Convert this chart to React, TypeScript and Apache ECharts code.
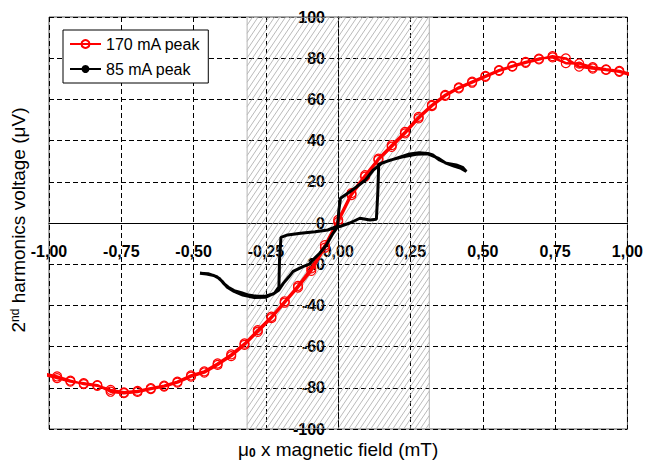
import React, { useEffect, useRef } from "react";
import * as echarts from "echarts";

// ---- data ----
const X_TICKS_MIN = -1;
const X_TICKS_MAX = 1;
const X_INTERVAL = 0.25;
const Y_MIN = -100;
const Y_MAX = 100;
const Y_INTERVAL = 20;

// shaded (hatched) field band
const HATCH_BAND = [-0.315, 0.315];

// 170 mA peak: field sampling points
const RED_X = [
  -1.019, -0.972, -0.926, -0.88, -0.833, -0.787, -0.741, -0.694, -0.648, -0.602,
  -0.556, -0.509, -0.463, -0.417, -0.37, -0.324, -0.278, -0.231, -0.185, -0.139,
  -0.093, -0.046, 0, 0.046, 0.093, 0.139, 0.185, 0.231, 0.278, 0.324, 0.37,
  0.417, 0.463, 0.509, 0.556, 0.602, 0.648, 0.694, 0.741, 0.787, 0.833, 0.88,
  0.926, 0.972, 1.019,
];
// rising sweep
const RED_UP = [
  -73.5, -75.3, -77.0, -77.8, -78.7, -81.9, -82.6, -82.0, -80.6, -79.4,
  -77.5, -74.6, -72.6, -68.9, -64.6, -59.2, -52.8, -46.2, -38.7, -31.3,
  -23.2, -12.0, 0.5, 13.6, 22.5, 30.6, 37.0, 43.5, 50.8, 56.8, 61.7,
  65.4, 68.1, 71.0, 73.9, 75.9, 77.8, 79.4, 81.0, 79.9, 75.9, 75.0,
  74.3, 73.4, 71.5,
];
// falling sweep (same field points)
const RED_DOWN = [
  -73.0, -74.5, -76.5, -78.2, -79.0, -81.0, -82.2, -81.5, -80.2, -79.0,
  -77.0, -74.0, -72.0, -68.2, -63.8, -58.5, -52.0, -45.5, -38.0, -30.5,
  -22.0, -10.8, 1.5, 14.5, 23.2, 31.2, 37.8, 44.2, 51.5, 57.3, 62.2,
  65.8, 68.6, 71.4, 74.2, 76.2, 78.2, 79.8, 80.4, 77.6, 77.4, 75.6,
  74.6, 73.8, 72.0,
];

// 85 mA peak: hysteresis loop (field, voltage) in sweep order
const BLACK_X = [
  -0.478, -0.455, -0.43, -0.41, -0.395, -0.38, -0.36, -0.335, -0.31, -0.28,
  -0.25, -0.225, -0.205, -0.19, -0.17, -0.156, -0.122, -0.1, -0.088, -0.064,
  -0.041, -0.018, 0.0, 0.005, 0.04, 0.075, 0.11, 0.132, 0.137, 0.14,
  0.166, 0.2, 0.247, 0.28, 0.31, 0.327, 0.35, 0.374, 0.408, 0.43, 0.443,
  0.425, 0.4, 0.37, 0.345, 0.31, 0.27, 0.22, 0.18, 0.15, 0.12,
  0.095, 0.063, 0.028, 0.008, 0.002, -0.002, -0.036, -0.08, -0.13, -0.175,
  -0.198, -0.203, -0.205, -0.22, -0.25, -0.29, -0.33, -0.36, -0.385, -0.4,
  -0.42, -0.45, -0.478,
];
const BLACK_Y = [
  -24.4, -24.8, -25.5, -27.0, -29.5, -31.2, -32.8, -33.8, -35.0, -35.6,
  -35.4, -34.5, -32.5, -29.3, -26.0, -23.5, -21.2, -20.0, -18.0, -14.7,
  -10.7, -5.0, -1.5, -1.8, 0.0, 2.3, 1.5, 1.8, 15.0, 28.5,
  29.8, 31.4, 33.5, 34.1, 33.8, 33.0, 30.6, 29.0, 28.2, 27.0, 25.0,
  26.5, 27.6, 29.2, 31.5, 33.6, 33.4, 32.0, 30.5, 29.0, 25.5,
  21.0, 17.5, 14.0, 12.0, 6.0, -1.5, -3.4, -4.3, -5.0, -5.8,
  -7.0, -18.0, -31.0, -34.0, -36.0, -36.2, -35.0, -33.2, -31.0, -28.5,
  -26.0, -24.6, -24.4,
];

const FONT = "'Liberation Sans', Arial, Helvetica, sans-serif";

function buildRedLoop(): number[][] {
  const pts: number[][] = [];
  for (let i = 0; i < RED_X.length; i++) pts.push([RED_X[i], RED_UP[i]]);
  for (let i = RED_X.length - 1; i >= 0; i--) pts.push([RED_X[i], RED_DOWN[i]]);
  return pts;
}

function buildBlackLoop(): number[][] {
  return BLACK_X.map((x, i) => [x, BLACK_Y[i]]);
}

const fmtComma = (v: number) => v.toFixed(2).replace(".", ",");

export default function App() {
  const ref = useRef<HTMLDivElement>(null);

  useEffect(() => {
    if (!ref.current) return;
    const chart = echarts.init(ref.current, null, { renderer: "svg" });

    const hatchAngle = Math.tan((56 * Math.PI) / 180);
    const hatchSpacing = 5.5;

    const option: any = {
      animation: false,
      backgroundColor: "#ffffff",
      textStyle: { fontFamily: FONT },
      grid: {
        left: 49,
        right: 18,
        top: 17,
        bottom: 34,
        show: true,
        borderColor: "#555555",
        borderWidth: 1,
        backgroundColor: "transparent",
      },
      legend: {
        orient: "vertical",
        left: 63,
        top: 30,
        itemWidth: 31,
        itemHeight: 10,
        itemGap: 9,
        padding: [6, 8, 6, 6],
        borderColor: "#000000",
        borderWidth: 1,
        backgroundColor: "#ffffff",
        textStyle: { fontSize: 16, color: "#000000", fontFamily: FONT },
        data: ["170 mA peak", "85 mA peak"],
      },
      xAxis: {
        type: "value",
        min: X_TICKS_MIN,
        max: X_TICKS_MAX,
        interval: X_INTERVAL,
        axisLine: {
          show: true,
          onZero: true,
          onZeroAxisIndex: 0,
          lineStyle: { color: "#000000", width: 1 },
        },
        axisTick: { show: false },
        axisLabel: {
          formatter: fmtComma,
          fontSize: 16,
          fontWeight: "bold",
          color: "#000000",
          margin: -186,
          fontFamily: FONT,
        },
        splitLine: {
          show: true,
          lineStyle: { color: "#000000", type: [5, 3], width: 1 },
        },
      },
      yAxis: {
        type: "value",
        min: Y_MIN,
        max: Y_MAX,
        interval: Y_INTERVAL,
        axisLine: {
          show: true,
          onZero: true,
          onZeroAxisIndex: 0,
          lineStyle: { color: "#000000", width: 1 },
        },
        axisTick: { show: false },
        axisLabel: {
          fontSize: 16,
          fontWeight: "bold",
          color: "#000000",
          margin: -276,
          fontFamily: FONT,
        },
        splitLine: {
          show: true,
          lineStyle: { color: "#000000", type: [5, 3], width: 1 },
        },
      },
      graphic: [
        {
          type: "text",
          left: 238,
          top: 440,
          style: {
            text: "{mu|μ}{sub|0}{t| x magnetic field (mT)}",
            fill: "#000000",
            rich: {
              mu: { fontSize: 19, fontFamily: FONT, fill: "#000" },
              sub: {
                fontSize: 12,
                fontWeight: "bold",
                fontFamily: FONT,
                fill: "#000",
                verticalAlign: "bottom",
                lineHeight: 16,
              },
              t: { fontSize: 19, fontFamily: FONT, fill: "#000" },
            },
          },
        },
        {
          type: "text",
          x: 18,
          y: 220,
          rotation: Math.PI / 2,
          style: {
            text: "{t|2}{sup|nd}{t| harmonics voltage (μV)}",
            align: "center",
            verticalAlign: "middle",
            fill: "#000000",
            rich: {
              t: { fontSize: 19, fontFamily: FONT, fill: "#000" },
              sup: {
                fontSize: 12,
                fontFamily: FONT,
                fill: "#000",
                verticalAlign: "top",
                lineHeight: 14,
              },
            },
          },
        },
      ],
      series: [
        {
          type: "custom",
          name: "band",
          z: 1,
          silent: true,
          clip: true,
          data: [[HATCH_BAND[0], HATCH_BAND[1]]],
          encode: { x: [0, 1] },
          renderItem: (params: any, api: any) => {
            const p0 = api.coord([api.value(0), Y_MAX]);
            const p1 = api.coord([api.value(1), Y_MIN]);
            const left = p0[0];
            const top = p0[1];
            const right = p1[0];
            const bottom = p1[1];
            const h = bottom - top;
            const run = h / hatchAngle;
            const children: any[] = [];
            for (let xs = left - run; xs < right; xs += hatchSpacing) {
              let ax = xs;
              let ay = bottom;
              let bx = xs + run;
              let by = top;
              if (ax < left) {
                ay = bottom - hatchAngle * (left - xs);
                ax = left;
              }
              if (bx > right) {
                by = bottom - hatchAngle * (right - xs);
                bx = right;
              }
              children.push({
                type: "line",
                shape: { x1: ax, y1: ay, x2: bx, y2: by },
                style: { stroke: "#a8a8a8", lineWidth: 0.8 },
              });
            }
            children.push({
              type: "rect",
              shape: { x: left, y: top, width: right - left, height: h },
              style: { fill: "none", stroke: "#b5b5b5", lineWidth: 1 },
            });
            return { type: "group", children };
          },
        },
        {
          type: "line",
          name: "170 mA peak",
          z: 3,
          data: buildRedLoop(),
          clip: true,
          symbol: "circle",
          symbolSize: 9,
          showSymbol: true,
          lineStyle: { color: "#ff0000", width: 2.5 },
          itemStyle: { color: "rgba(255,255,255,0)", borderColor: "#ff0000", borderWidth: 1.2 },
        },
        {
          type: "line",
          name: "85 mA peak",
          z: 4,
          data: buildBlackLoop(),
          clip: true,
          symbol: "none",
          showSymbol: false,
          lineStyle: { color: "#000000", width: 3 },
          itemStyle: { color: "#000000" },
        },
      ],
    };

    chart.setOption(option);
    return () => {
      chart.dispose();
    };
  }, []);

  return (
    <div
      ref={ref}
      style={{ position: "absolute", left: 0, top: 0, width: 646, height: 463 }}
    />
  );
}
